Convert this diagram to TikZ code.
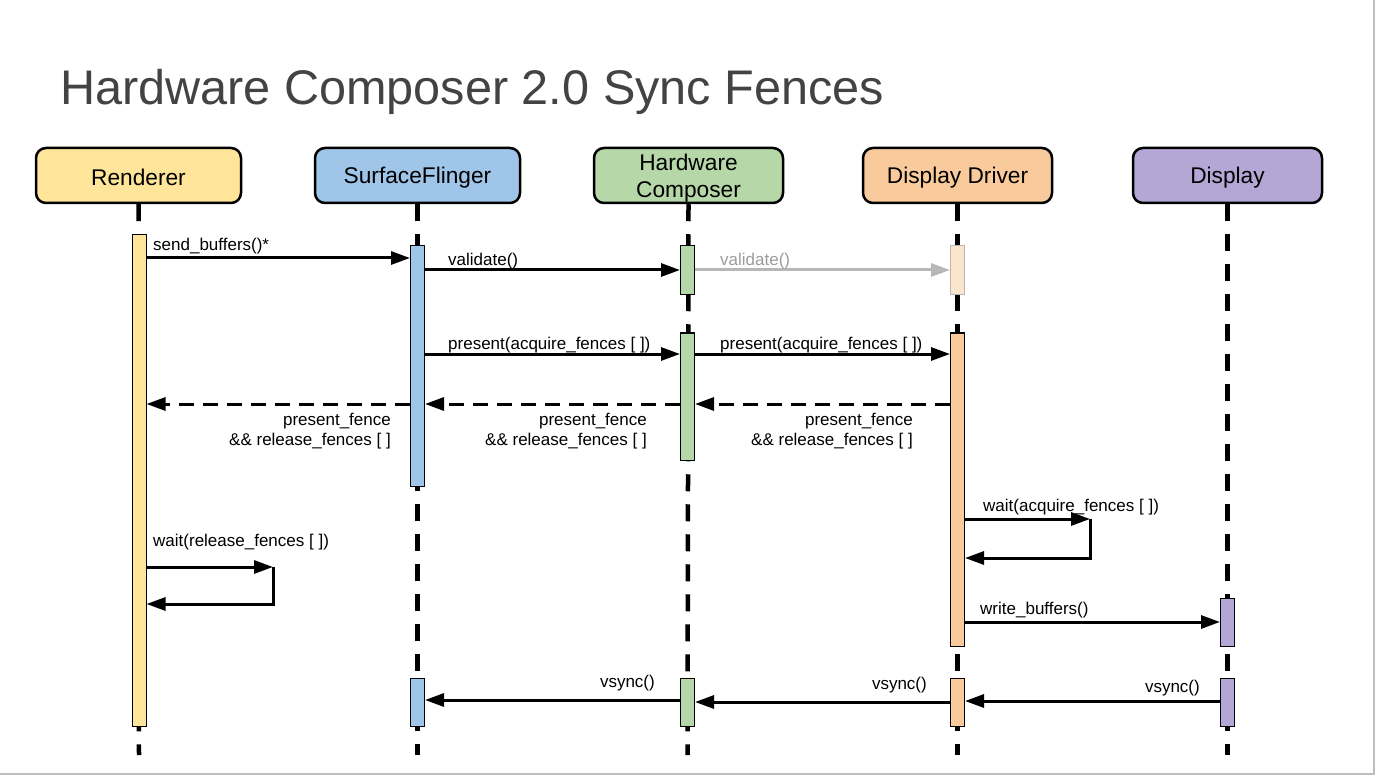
\documentclass[tikz,border=0pt]{standalone}
\usepackage{fontspec}
\setmainfont{Liberation Sans}
\usetikzlibrary{arrows.meta,calc}
\definecolor{cR}{HTML}{FFE599}
\definecolor{cS}{HTML}{9FC5E8}
\definecolor{cH}{HTML}{B6D7A8}
\definecolor{cD}{HTML}{F9CB9C}
\definecolor{cDf}{HTML}{FCE5CD}
\definecolor{cP}{HTML}{B4A7D6}
\definecolor{title}{HTML}{434343}
\definecolor{faded}{HTML}{B7B7B7}
\definecolor{frame}{HTML}{BDBDBD}
\begin{document}
\begin{tikzpicture}[x=1pt,y=-1pt,
  headbox/.style={draw, line width=2.5pt, rounded corners=10pt, minimum width=205pt, minimum height=55pt, inner sep=0pt},
  headtext/.style={font=\fontsize{22.7}{27}\selectfont, align=center, inner sep=0pt},
  life/.style={line width=4.5pt, dash pattern=on 17pt off 13pt},
  bar/.style={draw, line width=1pt, minimum width=14pt, inner sep=0pt},
  msg/.style={line width=3pt, -{Triangle[length=19pt,width=13pt]}},
  ret/.style={msg, dash pattern=on 15pt off 9pt},
  lbl/.style={font=\fontsize{17}{20}\selectfont, inner sep=0pt}]
\useasboundingbox (0,0) rectangle (1375,775);
\fill[white] (0,0) rectangle (1375,775);
\draw[frame, line width=2pt] (0,773.5) -- (1373.5,773.5) -- (1373.5,0);

% title
\node[anchor=base west, inner sep=0pt, text=title, font=\fontsize{48.6}{55}\selectfont] (ttl) at (60,105) {Hardware Composer 2.0 Sync Fences};

% headers
\node[headbox, fill=cR] (hR) at (138.5,175.5) {};
\node[headbox, fill=cS] (hS) at (417.5,175.5) {};
\node[headbox, fill=cH, minimum width=189pt] (hH) at (688.5,175.5) {};
\node[headbox, fill=cD, minimum width=189pt] (hD) at (957.5,175.5) {};
\node[headbox, fill=cP, minimum width=189pt] (hP) at (1227.5,175.5) {};
\node[headtext] (tR) at ($(hR.center)+(0,2)$) {Renderer};
\node[headtext] (tS) at ($(hS.center)+(0,2)$) {SurfaceFlinger};
\node[headtext] (tH) at ($(hH.center)+(0,2.5)$) {Hardware\\Composer};
\node[headtext] (tD) at ($(hD.center)+(0,2)$) {Display Driver};
\node[headtext] (tP) at ($(hP.center)+(0,2)$) {Display};

% lifelines
\foreach \h/\x in {hR/139, hS/417.5, hH/687.5, hD/957.5, hP/1227.5}
  \draw[life] (\h.south) -- (\x,755);

% activation bars
\node[bar, fill=cR, minimum height=491pt] (rR1) at (139,480.5) {};
\node[bar, fill=cS, minimum height=240pt] (bS1) at (417.5,366) {};
\node[bar, fill=cS, minimum height=48pt] (bS2) at (417.5,702) {};
\node[bar, fill=cH, minimum height=49pt] (bH1) at (687.5,270.5) {};
\node[bar, fill=cH, minimum height=127pt] (bH2) at (687.5,396.5) {};
\node[bar, fill=cH, minimum height=48pt] (bH3) at (687.5,702) {};
\node[bar, fill=cDf, draw=faded, minimum height=49pt] (bD0) at (957.5,270.5) {};
\node[bar, fill=cD, minimum height=313pt] (bD1) at (957.5,489.5) {};
\node[bar, fill=cD, minimum height=48pt] (bD2) at (957.5,702) {};
\node[bar, fill=cP, minimum height=48pt] (bP1) at (1227.5,622) {};
\node[bar, fill=cP, minimum height=48pt] (bP2) at (1227.5,702) {};

% send_buffers
\draw[msg] (rR1.east |- 0,258) -- (bS1.west |- 0,258);
\node[lbl, anchor=mid west] (l1) at (153,247.5) {send\_buffers()*};

% validate
\draw[msg] (bS1.east |- 0,270) -- (bH1.west |- 0,270);
\node[lbl, anchor=mid west] (l2) at (448,262.5) {validate()};
\draw[msg, faded] (bH1.east |- 0,270) -- (bD0.west |- 0,270);
\node[lbl, anchor=mid west, text=faded!85!black] (l3) at (720,262.5) {validate()};

% present
\draw[msg] (bS1.east |- 0,354) -- (bH2.west |- 0,354);
\node[lbl, anchor=mid west] (l4) at (448,346.5) {present(acquire\_fences [ ])};
\draw[msg] (bH2.east |- 0,354) -- (bD1.west |- 0,354);
\node[lbl, anchor=mid west] (l5) at (720,346.5) {present(acquire\_fences [ ])};

% returns
\draw[ret] (bD1.west |- 0,404) -- (bH2.east |- 0,404);
\draw[ret] (bH2.west |- 0,404) -- (bS1.east |- 0,404);
\draw[ret] (bS1.west |- 0,404) -- (rR1.east |- 0,404);
\foreach \x/\n in {913/a, 647/b, 391/c} {
  \node[lbl, anchor=mid east] (pf\n) at (\x,422.5) {present\_fence};
  \node[lbl, anchor=mid east] (rf\n) at (\x,442.5) {\&\& release\_fences [ ]};
}

% wait acquire
\coordinate (wa1) at (1090,519);
\coordinate (wa2) at (1090,558);
\draw[msg] (bD1.east |- wa1) -- (wa1);
\draw[msg] (wa1) -- (wa2) -- (bD1.east |- wa2);
\node[lbl, anchor=mid west] (l6) at (983,508.5) {wait(acquire\_fences [ ])};

% wait release
\coordinate (wr1) at (273,567);
\coordinate (wr2) at (273,604);
\draw[msg] (rR1.east |- wr1) -- (wr1);
\draw[msg] (wr1) -- (wr2) -- (rR1.east |- wr2);
\node[lbl, anchor=mid west] (l7) at (153,543.5) {wait(release\_fences [ ])};

% write_buffers
\draw[msg] (bD1.east |- 0,622) -- (bP1.west |- 0,622);
\node[lbl, anchor=mid west] (l8) at (980,611.5) {write\_buffers()};

% vsync
\draw[msg] (bP2.west |- 0,701) -- (bD2.east |- 0,701);
\node[lbl, anchor=mid east] (v1) at (1200,689.5) {vsync()};
\draw[msg] (bD2.west |- 0,702) -- (bH3.east |- 0,702);
\node[lbl, anchor=mid east] (v2) at (927,686.5) {vsync()};
\draw[msg] (bH3.west |- 0,700) -- (bS2.east |- 0,700);
\node[lbl, anchor=mid east] (v3) at (655,684.5) {vsync()};
\end{tikzpicture}
\end{document}
